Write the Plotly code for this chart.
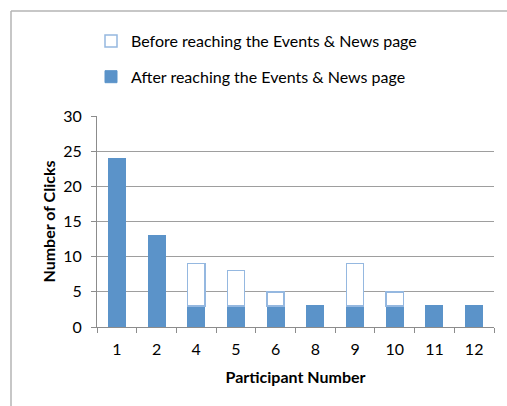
import plotly.graph_objects as go

participants = ["1", "2", "4", "5", "6", "8", "9", "10", "11", "12"]
after_clicks = [24, 13, 3, 3, 3, 3, 3, 3, 3, 3]
before_clicks = [0, 0, 6, 5, 2, 0, 6, 2, 0, 0]
y_ticks = [0, 5, 10, 15, 20, 25, 30]

BLUE = "#5B93C9"
OUTLINE = "#95B8E0"
FONT = "Lato"

W, H = 507, 406
L, T = 97, 116
R = W - 494
B = H - 327
pw, ph = W - L - R, H - T - B

def px_x(p):
    return (p - L) / pw

def px_y(p):
    return 1 + (T - p) / ph

fig = go.Figure()
fig.add_trace(go.Bar(
    x=participants, y=after_clicks, name="After reaching the Events & News page",
    marker=dict(color=BLUE, line=dict(color=BLUE, width=1)),
    legendgroup="a", legendrank=2,
))
fig.add_trace(go.Bar(
    x=participants, y=[v if v > 0 else None for v in before_clicks],
    name="Before reaching the Events & News page",
    marker=dict(color="white", line=dict(color=OUTLINE, width=1.5)),
    legendgroup="b", legendrank=1,
))

border = dict(color="#B5B5B5", width=1.5)
fig.update_layout(
    width=W, height=H,
    margin=dict(l=L, r=R, t=T, b=B, pad=0),
    barmode="stack", bargap=0.57,
    plot_bgcolor="white", paper_bgcolor="white",
    font=dict(family=FONT, size=16, color="#000000"),
    showlegend=True,
    legend=dict(
        x=px_x(91), y=px_y(24), xanchor="left", yanchor="top",
        orientation="v", tracegroupgap=12, itemclick=False,
        font=dict(family=FONT, size=16, color="#000000"),
        bgcolor="rgba(0,0,0,0)",
    ),
    xaxis=dict(
        type="category", tickson="boundaries", ticks="outside", ticklen=5,
        tickcolor="#8C8C8C", showline=True, linecolor="#8C8C8C", linewidth=1,
        showgrid=False,
        title=dict(text="<b>Participant Number</b>", standoff=14,
                   font=dict(family=FONT, size=16)),
        tickfont=dict(family=FONT, size=16),
        ticklabelstandoff=8,
    ),
    yaxis=dict(
        range=[0, 30], tickvals=y_ticks, ticks="outside", ticklen=5,
        tickcolor="#8C8C8C", showline=True, linecolor="#8C8C8C", linewidth=1,
        showgrid=True, gridcolor="#9E9E9E", gridwidth=1, zeroline=False,
        title=dict(text="<b>Number of Clicks</b>", standoff=3,
                   font=dict(family=FONT, size=16)),
        tickfont=dict(family=FONT, size=16),
        ticklabelstandoff=6,
    ),
    shapes=[
        dict(type="line", xref="paper", yref="paper",
             x0=px_x(11), x1=px_x(520), y0=px_y(11), y1=px_y(11),
             line=border, layer="below"),
        dict(type="line", xref="paper", yref="paper",
             x0=px_x(11), x1=px_x(11), y0=px_y(11), y1=px_y(420),
             line=border, layer="below"),
    ],
)

fig.write_html(
    "out.html",
    config={"displayModeBar": False},
    post_script="document.body.style.margin='0';document.body.style.overflow='hidden';",
)
